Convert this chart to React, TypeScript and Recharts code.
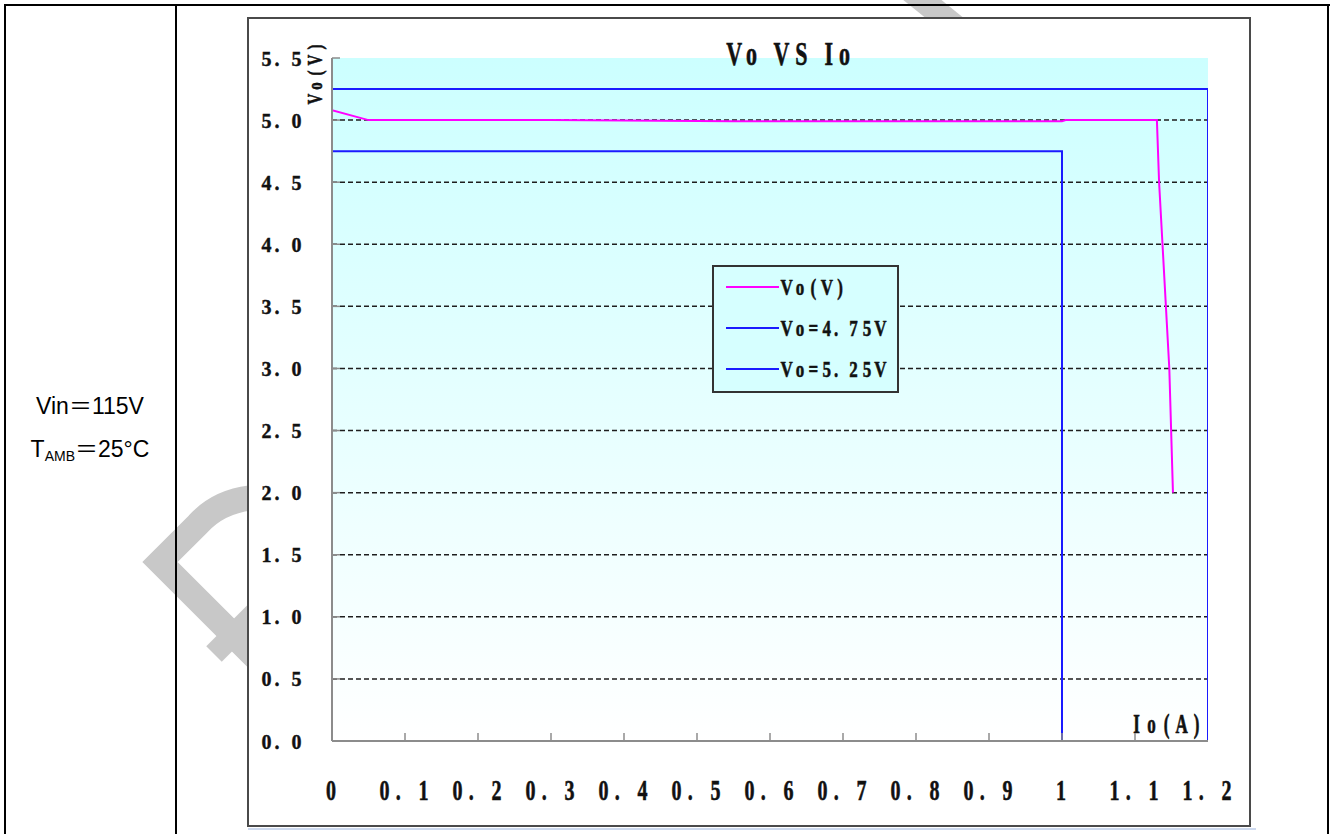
import React from "react";
import { LineChart, Line, XAxis, YAxis, ReferenceArea, ReferenceLine, Legend } from "recharts";

const xTicks = [0, 0.1, 0.2, 0.3, 0.4, 0.5, 0.6, 0.7, 0.8, 0.9, 1, 1.1, 1.2];
const yTicks = [0, 0.5, 1, 1.5, 2, 2.5, 3, 3.5, 4, 4.5, 5, 5.5];
const gridLevels = [0.5, 1, 1.5, 2, 2.5, 3, 3.5, 4, 4.5, 5];

// measured output voltage vs load current
const voMeasured = [
  { x: 0, y: 5.08 },
  { x: 0.05, y: 5.0 },
  { x: 0.3, y: 5.0 },
  { x: 0.55, y: 4.99 },
  { x: 1.0, y: 4.99 },
  { x: 1.005, y: 5.0 },
  { x: 1.13, y: 5.0 },
  { x: 1.133, y: 4.5 },
  { x: 1.147, y: 3.0 },
  { x: 1.152, y: 2.0 },
];
// limit lines
const voLow = [
  { x: 0, y: 4.75 },
  { x: 1, y: 4.75 },
  { x: 1, y: 0 },
];
const voHigh = [
  { x: 0, y: 5.25 },
  { x: 1.2, y: 5.25 },
  { x: 1.2, y: 0 },
];

const seriesNames = ["Vo(V)", "Vo=4.75V", "Vo=5.25V"];
const seriesColors = ["#ff00ff", "#1a1aff", "#1a1aff"];
const seriesData = [voMeasured, voLow, voHigh];

const FONT = "'Liberation Serif', 'DejaVu Serif', serif";
const SANS = "'Liberation Sans', Arial, 'Noto Sans CJK SC', sans-serif";
const AXIS_GRAY = "#8c8c8c";

type MonoProps = {
  x: number;
  y: number;
  text: string;
  size: number;
  cell: number;
  sy: number;
  anchor?: "start" | "middle" | "end";
  rotate?: number;
};

// fixed-cell, tall bold lettering like the old bitmap chart font
function MonoText({ x, y, text, size, cell, sy, anchor = "start", rotate = 0 }: MonoProps) {
  const chars = Array.from(text);
  const half = size * 0.27;
  const span = (chars.length - 1) * cell;
  const c0 = anchor === "middle" ? -span / 2 : anchor === "end" ? -half - span : half;
  return (
    <text
      transform={`translate(${x},${y}) rotate(${rotate}) scale(1,${sy})`}
      textAnchor="middle"
      fontFamily={FONT}
      fontWeight="bold"
      fontSize={size}
      fill="#111"
      stroke="#111"
      strokeWidth={0.4}
    >
      {chars.map((c, i) => (
        <tspan key={i} x={c0 + i * cell - (c === "." ? cell * 0.3 : 0)}>
          {c}
        </tspan>
      ))}
    </text>
  );
}

const XTick = (props: any) => {
  const { x, y, payload } = props;
  const v = payload.value;
  return (
    <g>
      {v > 0 && v < 1.2 && <line x1={x} y1={y} x2={x} y2={y - 8} stroke={AXIS_GRAY} strokeWidth={1.5} />}
      <MonoText x={x - 1} y={y + 59} text={String(v)} size={20} cell={19.5} sy={1.5} anchor="middle" />
    </g>
  );
};

const YTick = (props: any) => {
  const { x, y, payload } = props;
  return (
    <g>
      <line x1={x} y1={y} x2={x + 8} y2={y} stroke={AXIS_GRAY} strokeWidth={1.5} />
      <MonoText x={x - 30} y={y + 7.5} text={payload.value.toFixed(1)} size={20} cell={15} sy={1.1} anchor="end" />
    </g>
  );
};

const LegendBox = () => (
  <svg width={187} height={128}>
    <rect x={1} y={1} width={185} height={126} fill="#d6ffff" stroke="#333" strokeWidth={2} />
    {seriesNames.map((name, i) => (
      <g key={name}>
        <line x1={14} x2={67} y1={22 + i * 41} y2={22 + i * 41} stroke={seriesColors[i]} strokeWidth={2} />
        <MonoText x={70} y={29.5 + i * 41} text={name} size={17} cell={13.4} sy={1.35} />
      </g>
    ))}
  </svg>
);

export default function App() {
  return (
    <div style={{ position: "absolute", left: 0, top: 0, width: 1330, height: 834, overflow: "hidden", background: "#fff" }}>
      <svg width={1330} height={834} style={{ position: "absolute", left: 0, top: 0 }}>
        {/* watermark */}
        <path
          d="M 262 498 L 250 498 Q 218 502 198 524 L 160 562 L 262 664"
          fill="none"
          stroke="#c8c8c8"
          strokeWidth={25}
          strokeLinejoin="miter"
        />
        <path d="M 214 654 L 262 606" stroke="#c8c8c8" strokeWidth={22} />
        <path d="M 910 -10 L 962 32" stroke="#c8c8c8" strokeWidth={24} />
        {/* table */}
        <line x1={4} y1={5} x2={1330} y2={5} stroke="#000" strokeWidth={2} />
        <line x1={5} y1={4} x2={5} y2={834} stroke="#000" strokeWidth={2} />
        <line x1={176} y1={4} x2={176} y2={834} stroke="#000" strokeWidth={2} />
        <line x1={1328} y1={4} x2={1328} y2={834} stroke="#000" strokeWidth={2} />
        <text x={90} y={414} textAnchor="middle" fontFamily={SANS} fontSize={23} fill="#000">
          Vin<tspan fontFamily="'Noto Sans CJK SC'">＝</tspan>115V
        </text>
        <text x={90} y={457} textAnchor="middle" fontFamily={SANS} fontSize={23} fill="#000">
          T<tspan fontSize={14} dy={4}>AMB</tspan>
          <tspan dy={-4} fontFamily="'Noto Sans CJK SC'">＝</tspan>25°C
        </text>
        {/* chart frame */}
        <rect x={248} y={18} width={1002} height={808} fill="#fff" stroke="#4a4a4a" strokeWidth={2} />
        <line x1={248} y1={829} x2={1256} y2={829} stroke="#cdd9ee" strokeWidth={2} />
      </svg>
      <div style={{ position: "absolute", left: 248, top: 18 }}>
        <LineChart width={1002} height={808} margin={{ top: 40, right: 42, bottom: 0, left: 0 }}>
          <defs>
            <linearGradient id="bgGrad" x1="0" y1="0" x2="0" y2="1">
              <stop offset="0%" stopColor="#ccffff" />
              <stop offset="100%" stopColor="#ffffff" />
            </linearGradient>
          </defs>
          <XAxis
            type="number"
            dataKey="x"
            domain={[0, 1.2]}
            ticks={xTicks}
            interval={0}
            allowDataOverflow
            height={85}
            tickSize={0}
            tickMargin={0}
            tickLine={false}
            tick={<XTick />}
            axisLine={{ stroke: AXIS_GRAY, strokeWidth: 2 }}
            label={{
              content: (p: any) => {
                const vb = p.viewBox;
                return <MonoText x={vb.x + vb.width - 76} y={vb.y - 8} text="Io(A)" size={17} cell={15} sy={1.6} />;
              },
            }}
          />
          <YAxis
            type="number"
            dataKey="y"
            domain={[0, 5.5]}
            ticks={yTicks}
            interval={0}
            allowDataOverflow
            width={84}
            tickSize={0}
            tickMargin={0}
            tickLine={false}
            tick={<YTick />}
            axisLine={{ stroke: AXIS_GRAY, strokeWidth: 2 }}
            label={{
              content: () => <MonoText x={74} y={55} text="Vo(V)" size={15} cell={13} sy={1.4} anchor="middle" rotate={-90} />,
            }}
          />
          <ReferenceArea x1={0} x2={1.2} y1={0} y2={5.5} fill="url(#bgGrad)" fillOpacity={1} stroke="none" />
          {gridLevels.map((v) => (
            <ReferenceLine key={v} y={v} stroke="#1e1e1e" strokeWidth={1.5} strokeDasharray="5 3" />
          ))}
          {seriesData.map((d, i) => (
            <Line
              key={seriesNames[i]}
              data={d}
              dataKey="y"
              name={seriesNames[i]}
              type="linear"
              stroke={seriesColors[i]}
              strokeWidth={2}
              dot={false}
              activeDot={false}
              isAnimationActive={false}
            />
          ))}
          <Legend
            layout="horizontal"
            verticalAlign="middle"
            align="center"
            content={() => <LegendBox />}
            wrapperStyle={{ left: 464, top: 247, width: 187, height: 128 }}
          />
        </LineChart>
      </div>
      {/* chart title sits on top of the plot background */}
      <svg width={1330} height={80} style={{ position: "absolute", left: 0, top: 0, pointerEvents: "none" }}>
        <text
          transform="translate(791,65) scale(1,1.5)"
          textAnchor="middle"
          fontFamily={FONT}
          fontWeight="bold"
          fontSize={22}
          letterSpacing={5.8}
          fill="#111"
          stroke="#111"
          strokeWidth={0.4}
        >
          Vo VS Io
        </text>
      </svg>
    </div>
  );
}
